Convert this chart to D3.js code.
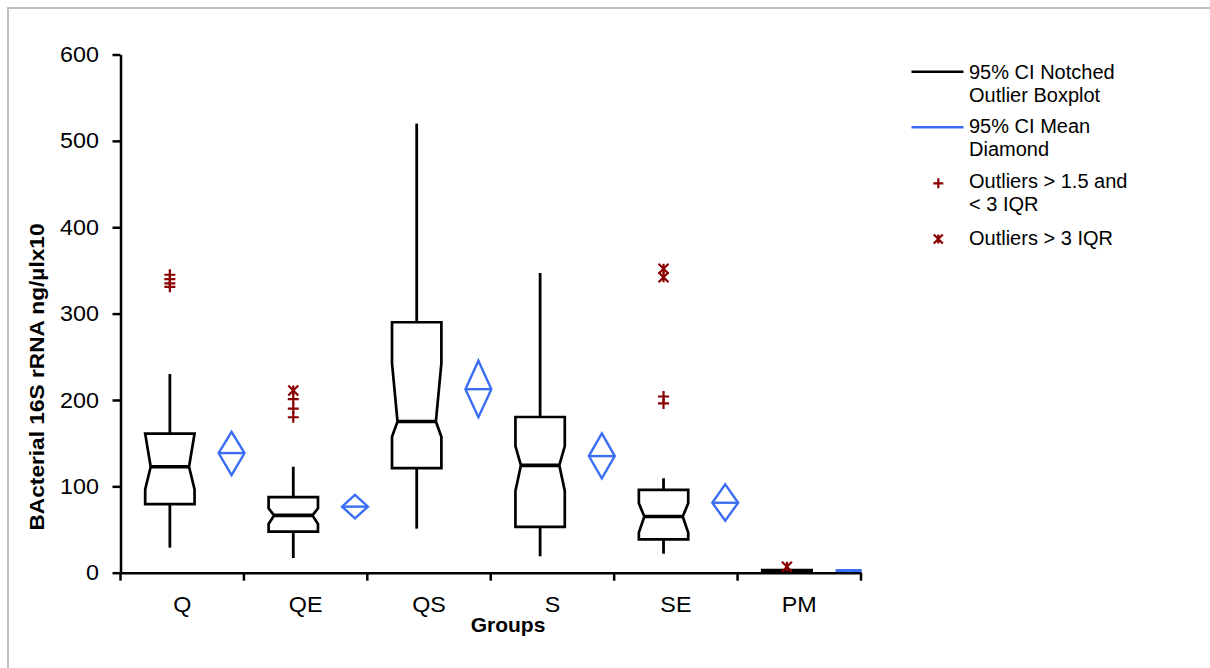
<!DOCTYPE html>
<html>
<head>
<meta charset="utf-8">
<script src="https://cdn.jsdelivr.net/npm/d3@7"></script>
<style>
  body { margin: 0; background: #fff; }
  svg { display: block; font-family: "Liberation Sans", Arial, sans-serif; }
</style>
</head>
<body>
<div id="canvas"></div>
<script>
// data
var groups = ["Q", "QE", "QS", "S", "SE", "PM"];
var whiskerLow  = [29, 17, 51, 19, 22, 0];
var q1          = [79.5, 47.5, 121, 53, 38.6, 0.5];
var median      = [122.7, 66.4, 175, 124.3, 65, 1.5];
var q3          = [161, 87.6, 290, 180.3, 95.8, 3];
var whiskerHigh = [230, 122.7, 520, 347, 109.3, 4];
var notchLow    = [96.5, 56.4, 157.5, 94.6, 46.4, 1];
var notchHigh   = [161, 74.5, 242.5, 146.7, 80.3, 2.5];
var meanVals    = [138.5, 76.5, 212.5, 135, 81, 2.5];
var ciLow       = [113, 63, 180, 109.3, 60.2, 2];
var ciHigh      = [163, 90, 245.5, 161.4, 102.3, 3];

// outliers > 1.5 and < 3 IQR
var mildGroups = ["Q", "Q", "Q", "Q", "QE", "QE", "QE", "SE", "SE"];
var mildValues = [345, 340, 335, 331, 201, 190, 180, 204, 196];
// outliers > 3 IQR
var extremeGroups = ["QE", "SE", "SE", "PM"];
var extremeValues = [211, 352, 342, 7];

var yTicks = [0, 100, 200, 300, 400, 500, 600];
var legendLabels = [
  ["95% CI Notched", "Outlier Boxplot"],
  ["95% CI Mean", "Diamond"],
  ["Outliers > 1.5 and", "< 3 IQR"],
  ["Outliers > 3 IQR"]
];

var BOX_COLOR = "#000";
var MEAN_COLOR = "#3b6ef5";
var OUTLIER_COLOR = "#8b0000";
var STRETCH = 1.06;   // axis text is drawn a bit wider than plain Arial

var width = 1210, height = 668;

var svg = d3.select("#canvas").append("svg")
    .attr("width", width).attr("height", height);

// grey frame round the chart area
svg.append("rect")
    .attr("x", 8).attr("y", 8)
    .attr("width", width + 20).attr("height", height + 20)
    .attr("fill", "#fff")
    .attr("stroke", "#c0c0c0")
    .attr("stroke-width", 2);

var x = d3.scaleBand().domain(groups).range([120.5, 861]).padding(0);
var y = d3.scaleLinear().domain([0, 600]).range([572.7, 54.5]);
var bw = x.bandwidth();

function boxCenter(g) { return x(g) + bw * 0.4; }
function meanCenter(g) { return x(g) + bw * 0.9; }

// y axis
var yAxis = svg.append("g")
    .attr("transform", "translate(120.5,0)")
    .call(d3.axisLeft(y).tickValues(yTicks).tickSize(8).tickSizeOuter(0));
yAxis.selectAll("path, line").attr("stroke", "#000").attr("stroke-width", 2.5);
yAxis.selectAll("text")
    .attr("x", 0)
    .attr("transform", "translate(-21.5,0) scale(" + STRETCH + ",1)")
    .attr("font-size", 22)
    .attr("fill", "#000");

// x axis: labels at band centres, ticks at band edges
var xAxis = svg.append("g")
    .attr("transform", "translate(0," + y(0) + ")")
    .call(d3.axisBottom(x).tickSize(0).tickSizeOuter(0));
xAxis.select(".domain").attr("stroke", "#000").attr("stroke-width", 2.5);
xAxis.selectAll("text")
    .attr("y", 39).attr("dy", 0)
    .attr("transform", "scale(" + STRETCH + ",1)")
    .attr("font-size", 22)
    .attr("fill", "#000");

var edges = groups.map(function(g) { return x(g); }).concat([x.range()[1]]);
xAxis.selectAll(".edge").data(edges).enter().append("line")
    .attr("class", "edge")
    .attr("x1", function(d) { return d; }).attr("x2", function(d) { return d; })
    .attr("y1", 0).attr("y2", 8)
    .attr("stroke", "#000").attr("stroke-width", 2.5);

svg.append("text")
    .attr("transform", "translate(508,632)")
    .attr("text-anchor", "middle")
    .attr("font-size", 21).attr("font-weight", "bold")
    .text("Groups");

svg.append("text")
    .attr("transform", "translate(44,377) rotate(-90) scale(1.08,1)")
    .attr("text-anchor", "middle")
    .attr("font-size", 21).attr("font-weight", "bold")
    .text("BActerial 16S rRNA ng/µlx10");

// notched boxes
var halfBox = bw * 0.2, notch = 5.5;

groups.forEach(function(g, i) {
    var cx = boxCenter(g);
    var l = cx - halfBox, r = cx + halfBox;

    svg.append("line")
        .attr("x1", cx).attr("x2", cx)
        .attr("y1", y(q3[i])).attr("y2", y(whiskerHigh[i]))
        .attr("stroke", BOX_COLOR).attr("stroke-width", 2.8);
    svg.append("line")
        .attr("x1", cx).attr("x2", cx)
        .attr("y1", y(q1[i])).attr("y2", y(whiskerLow[i]))
        .attr("stroke", BOX_COLOR).attr("stroke-width", 2.8);

    var pts = [
        [l, y(q3[i])], [r, y(q3[i])],
        [r, y(notchHigh[i])], [r - notch, y(median[i])], [r, y(notchLow[i])],
        [r, y(q1[i])], [l, y(q1[i])],
        [l, y(notchLow[i])], [l + notch, y(median[i])], [l, y(notchHigh[i])]
    ];
    svg.append("polygon")
        .attr("points", pts.map(function(p) { return p.join(","); }).join(" "))
        .attr("fill", "none")
        .attr("stroke", BOX_COLOR).attr("stroke-width", 2.7)
        .attr("stroke-linejoin", "miter");

    svg.append("line")
        .attr("x1", l + notch).attr("x2", r - notch)
        .attr("y1", y(median[i])).attr("y2", y(median[i]))
        .attr("stroke", BOX_COLOR).attr("stroke-width", 3.6);
});

// mean diamonds
var halfDiamond = bw * 0.105;
groups.forEach(function(g, i) {
    var cx = meanCenter(g);
    var pts = [
        [cx, y(ciHigh[i])], [cx + halfDiamond, y(meanVals[i])],
        [cx, y(ciLow[i])], [cx - halfDiamond, y(meanVals[i])]
    ];
    svg.append("polygon")
        .attr("points", pts.map(function(p) { return p.join(","); }).join(" "))
        .attr("fill", "none")
        .attr("stroke", MEAN_COLOR).attr("stroke-width", 2.4);
    svg.append("line")
        .attr("x1", cx - halfDiamond).attr("x2", cx + halfDiamond)
        .attr("y1", y(meanVals[i])).attr("y2", y(meanVals[i]))
        .attr("stroke", MEAN_COLOR).attr("stroke-width", 2.4);
});

// markers
function plusPath(cx, cy, s) {
    return "M" + (cx - s) + "," + cy + "H" + (cx + s) +
           "M" + cx + "," + (cy - s) + "V" + (cy + s);
}
function starPath(cx, cy, s) {
    return "M" + (cx - s) + "," + (cy - s) + "L" + (cx + s) + "," + (cy + s) +
           "M" + (cx + s) + "," + (cy - s) + "L" + (cx - s) + "," + (cy + s) +
           "M" + cx + "," + (cy - s) + "V" + (cy + s);
}

mildValues.forEach(function(v, i) {
    svg.append("path")
        .attr("d", plusPath(boxCenter(mildGroups[i]), y(v), 5.5))
        .attr("stroke", OUTLIER_COLOR).attr("stroke-width", 2.2).attr("fill", "none");
});
extremeValues.forEach(function(v, i) {
    svg.append("path")
        .attr("d", starPath(boxCenter(extremeGroups[i]), y(v), 5))
        .attr("stroke", OUTLIER_COLOR).attr("stroke-width", 2.2).attr("fill", "none");
});

// legend
var legend = svg.append("g").attr("font-size", 20).attr("fill", "#000");
var legendTop = [79, 133.3, 188.3, 245];

legendLabels.forEach(function(lines, i) {
    var t = legend.append("text")
        .attr("x", 969).attr("y", legendTop[i]);
    lines.forEach(function(s, k) {
        t.append("tspan").attr("x", 969).attr("dy", k == 0 ? 0 : 22.5).text(s);
    });
});

legend.append("line")
    .attr("x1", 911.5).attr("x2", 963.5).attr("y1", 71.7).attr("y2", 71.7)
    .attr("stroke", BOX_COLOR).attr("stroke-width", 2.5);
legend.append("line")
    .attr("x1", 911.5).attr("x2", 963.5).attr("y1", 127.3).attr("y2", 127.3)
    .attr("stroke", MEAN_COLOR).attr("stroke-width", 2.5);
legend.append("path")
    .attr("d", plusPath(938.3, 183.3, 5))
    .attr("stroke", OUTLIER_COLOR).attr("stroke-width", 2.2).attr("fill", "none");
legend.append("path")
    .attr("d", starPath(938.3, 239, 4.5))
    .attr("stroke", OUTLIER_COLOR).attr("stroke-width", 2.2).attr("fill", "none");
</script>
</body>
</html>
